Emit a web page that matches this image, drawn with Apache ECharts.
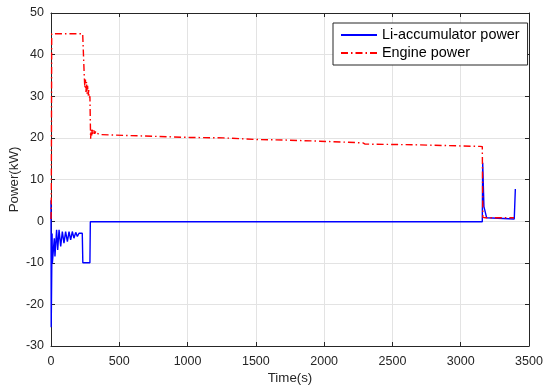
<!DOCTYPE html>
<html>
<head>
<meta charset="utf-8">
<script src="https://cdn.jsdelivr.net/npm/echarts@6/dist/echarts.min.js"></script>
<style>html,body{margin:0;padding:0;background:#fff}#c{width:550px;height:392px}</style>
</head>
<body>
<div id="c"></div>
<script>
// Time (s) and power (kW) pairs
const liTime  = [0, 1.5, 8, 10, 24, 29, 41, 49, 59, 71, 83, 95, 107, 120, 132, 144, 156, 168, 181, 193, 205, 217, 229, 233, 285, 288, 600, 610, 620, 760, 770, 780, 930, 940, 950, 1280, 1290, 1300, 1850, 1860, 1870, 2600, 2610, 2620, 3000, 3010, 3020, 3158, 3161, 3170, 3190, 3392, 3400];
const liPower = [5, -25.5, -3, -10.1, -4.1, -8.5, -2.1, -6.9, -2.1, -6.1, -2.5, -5.3, -2.5, -4.9, -2.5, -4.5, -2.5, -4.1, -2.7, -3.7, -2.9, -3.3, -2.9, -10, -10, -0.15, -0.15, 0.1, -0.15, -0.15, 0.1, -0.15, -0.15, 0.1, -0.15, -0.15, 0.05, -0.15, -0.15, 0.05, -0.15, -0.15, 0.05, -0.15, -0.15, 0.05, -0.15, -0.15, 14, 3.5, 0.8, 0.5, 7.7];
const engTime  = [0, 2, 5, 232, 240, 244, 248, 252, 256, 260, 264, 268, 272, 276, 280, 285, 290, 294, 298, 303, 308, 314, 320, 328, 336, 345, 359, 529, 774, 1018, 1262, 1506, 1700, 1969, 2284, 2300, 2650, 3141, 3158, 3162, 3180, 3390];
const engPower = [0.5, 3, 45, 45, 38, 34.5, 32, 34, 31, 33.5, 30.5, 32.5, 30, 31.5, 29.5, 30, 19.8, 22, 20.6, 22, 20.9, 21.8, 21, 21.6, 21.1, 21.4, 20.8, 20.6, 20.35, 20.1, 20.0, 19.6, 19.5, 19.2, 18.8, 18.5, 18.35, 17.95, 17.9, 0.9, 0.8, 0.8];
const seriesNames = ['Li-accumulator power', 'Engine power'];
const xTicks = {min: 0, max: 3500, interval: 500};
const yTicks = {min: -30, max: 50, interval: 10};

const pairs = (t, v) => t.map((x, i) => [x, v[i]]);
const FONT = 'Liberation Sans, Arial, Helvetica, sans-serif';
const AX = '#262626';
const plain = v => String(v);

const chart = echarts.init(document.getElementById('c'), null, {renderer: 'canvas'});
chart.setOption({
  animation: false,
  backgroundColor: '#fff',
  grid: {left: 51, right: 21, top: 13, bottom: 46, containLabel: false, outerBoundsMode: 'none'},
  legend: {
    orient: 'vertical', left: 333, top: 23,
    data: seriesNames,
    borderColor: AX, borderWidth: 1, borderRadius: 0,
    padding: [5, 8, 5, 7],
    itemWidth: 36, itemHeight: 14, itemGap: 4,
    backgroundColor: '#fff',
    itemStyle: {opacity: 0},
    textStyle: {fontFamily: FONT, fontSize: 14.4, color: '#000', lineHeight: 14}
  },
  xAxis: [{
    type: 'value', min: xTicks.min, max: xTicks.max, interval: xTicks.interval,
    name: 'Time(s)', nameLocation: 'middle', nameGap: 26, nameMoveOverlap: false,
    nameTextStyle: {fontFamily: FONT, fontSize: 13.3, color: AX},
    axisLine: {show: true, onZero: false, lineStyle: {color: AX, width: 1}},
    axisTick: {show: true, inside: true, length: 4, lineStyle: {color: AX}},
    axisLabel: {fontFamily: FONT, fontSize: 12.5, color: AX, margin: 9, formatter: plain},
    splitLine: {show: true, lineStyle: {color: '#e3e3e3', width: 1}}
  }, {
    type: 'value', position: 'top', min: xTicks.min, max: xTicks.max, interval: xTicks.interval,
    axisLine: {show: true, onZero: false, lineStyle: {color: AX, width: 1}},
    axisTick: {show: true, inside: true, length: 4, lineStyle: {color: AX}},
    axisLabel: {show: false}, splitLine: {show: false}
  }],
  yAxis: [{
    type: 'value', min: yTicks.min, max: yTicks.max, interval: yTicks.interval,
    name: 'Power(kW)', nameLocation: 'middle', nameGap: 30, nameRotate: 90, nameMoveOverlap: false,
    nameTextStyle: {fontFamily: FONT, fontSize: 13.3, color: AX},
    axisLine: {show: true, onZero: false, lineStyle: {color: AX, width: 1}},
    axisTick: {show: true, inside: true, length: 4, lineStyle: {color: AX}},
    axisLabel: {fontFamily: FONT, fontSize: 12.5, color: AX, margin: 7, formatter: plain},
    splitLine: {show: true, lineStyle: {color: '#e3e3e3', width: 1}}
  }, {
    type: 'value', position: 'right', min: yTicks.min, max: yTicks.max, interval: yTicks.interval,
    axisLine: {show: true, onZero: false, lineStyle: {color: AX, width: 1}},
    axisTick: {show: true, inside: true, length: 4, lineStyle: {color: AX}},
    axisLabel: {show: false}, splitLine: {show: false}
  }],
  series: [{
    name: seriesNames[0], type: 'line', xAxisIndex: 0, yAxisIndex: 0,
    data: pairs(liTime, liPower), showSymbol: false, symbol: 'none',
    lineStyle: {color: '#0000ff', width: 1.4}, itemStyle: {color: '#0000ff'}
  }, {
    name: seriesNames[1], type: 'line', xAxisIndex: 0, yAxisIndex: 0,
    data: pairs(engTime, engPower), showSymbol: false, symbol: 'none',
    lineStyle: {color: '#ff0000', width: 1.4, type: [7, 3, 1.5, 3]}, itemStyle: {color: '#ff0000'}
  }]
});
</script>
</body>
</html>
